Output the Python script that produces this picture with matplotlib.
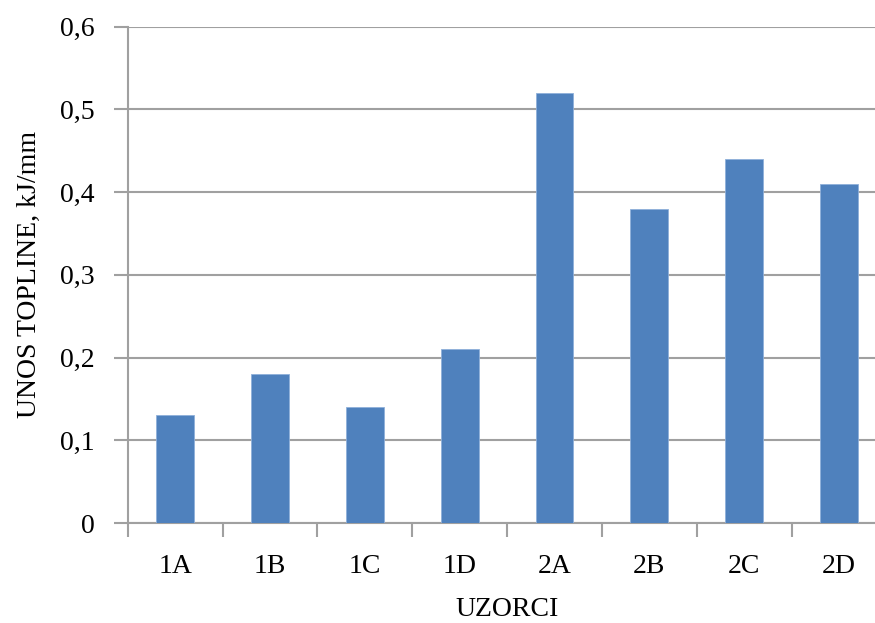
import numpy as np
import matplotlib.pyplot as plt
from matplotlib.ticker import FixedLocator, FuncFormatter

samples = ['1A', '1B', '1C', '1D', '2A', '2B', '2C', '2D']
heat_input = [0.13, 0.18, 0.14, 0.21, 0.52, 0.38, 0.44, 0.41]
y_ticks = [0, 0.1, 0.2, 0.3, 0.4, 0.5, 0.6]

plt.rcParams['font.family'] = ['Liberation Serif', 'DejaVu Serif']

fig = plt.figure(figsize=(8.75, 6.23), dpi=100)
# plot area runs past the right edge of the picture, as in the original crop
ax = fig.add_axes([0.146, 0.1605, 0.867, 0.7965])

x = np.arange(len(samples))
ax.bar(x, heat_input, width=0.40, color='#4f81bd', edgecolor='#8fb0da', linewidth=0.6, zorder=3)

ax.set_xlim(-0.5, len(samples) - 0.5)
ax.set_ylim(0, 0.6)
ax.set_yticks(y_ticks)
ax.yaxis.set_major_formatter(FuncFormatter(lambda v, p: ('%g' % round(v, 1)).replace('.', ',')))
ax.yaxis.grid(True, color='#a0a0a0', linewidth=1.5, zorder=0)

ax.set_xticks(x)
ax.set_xticklabels(samples)
ax.xaxis.set_minor_locator(FixedLocator(np.arange(-0.5, len(samples), 1.0)))
ax.tick_params(axis='x', which='major', length=0, pad=22, labelsize=20)
ax.tick_params(axis='x', which='minor', length=10, width=1.5, color='#a0a0a0')
ax.tick_params(axis='y', length=10, width=1.5, color='#a0a0a0', labelsize=20, pad=14)

for s in ['top', 'right']:
    ax.spines[s].set_visible(False)
for s in ['left', 'bottom']:
    ax.spines[s].set_color('#a0a0a0')
    ax.spines[s].set_linewidth(1.5)

ax.set_xlabel('UZORCI', fontsize=20, labelpad=13)
ax.set_ylabel('UNOS TOPLINE, kJ/mm', fontsize=20, labelpad=13)

fig.savefig('out.png', dpi=100)
